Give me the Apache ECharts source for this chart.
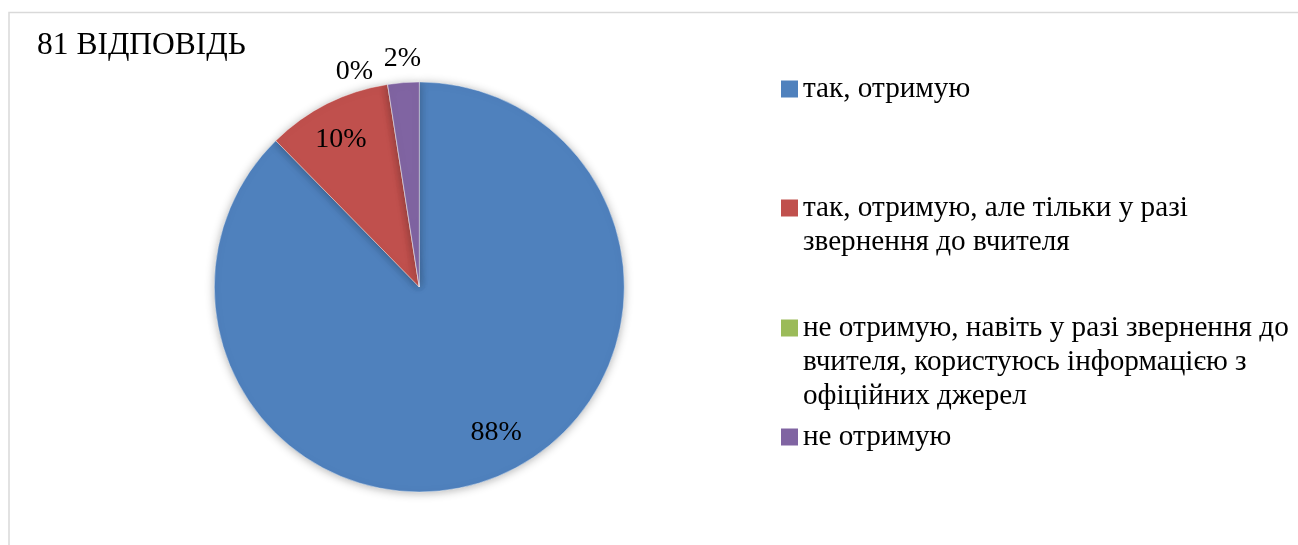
<!DOCTYPE html>
<html>
<head>
<meta charset="utf-8">
<script src="https://cdn.jsdelivr.net/npm/echarts@6/dist/echarts.min.js"></script>
<style>
  html, body { margin: 0; padding: 0; background: #fff; }
  #chart { width: 1298px; height: 545px; }
</style>
</head>
<body>
<div id="chart"></div>
<script>
// answers (81 responses in total)
var categories = [
    'так, отримую',
    'так, отримую, але тільки у разі звернення до вчителя',
    'не отримую, навіть у разі звернення до вчителя, користуюсь інформацією з офіційних джерел',
    'не отримую'
];
var legendLines = [
    ['так, отримую'],
    ['так, отримую, але тільки у разі', 'звернення до вчителя'],
    ['не отримую, навіть у разі звернення до', 'вчителя, користуюсь інформацією з', 'офіційних джерел'],
    ['не отримую']
];
var counts = [71, 8, 0, 2];
var titleText = '81 ВІДПОВІДЬ';

var colors = ['#4F81BD', '#C0504D', '#9BBB59', '#8064A2'];
var serif = '"Liberation Serif", "Times New Roman", serif';
var LH = 34;
var legendIconY = [89, 208, 328, 437];

var mychart = echarts.init(document.getElementById('chart'));

// offsets to move labels where Excel put them
var labelTweak = [
    { position: 'inside', offset: [37, 48] },
    { position: 'inside', offset: [-31, -53] },
    { position: 'outside', offset: [-7, 3] },
    { position: 'outside', offset: [24, -8] }
];

var pieData = categories.map(function (name, i) {
    return {
        name: name,
        value: counts[i],
        itemStyle: { color: colors[i] },
        label: labelTweak[i]
    };
});

function legendText(name) {
    var lines = legendLines[categories.indexOf(name)];
    var pad = [];
    for (var k = 1; k < lines.length; k++) pad.push('');
    return pad.concat(lines).join('\n');
}

var option = {
    animation: false,
    graphic: [{
        type: 'rect',
        shape: { x: 9, y: 12.5, width: 1400, height: 700 },
        style: { fill: 'none', stroke: '#d9d9d9', lineWidth: 1.5 },
        silent: true
    }],
    title: {
        text: titleText,
        left: 37,
        top: 30,
        padding: 0,
        textStyle: { fontFamily: serif, fontSize: 31.5, fontWeight: 'normal', color: '#000' }
    },
    legend: categories.map(function (name, i) {
        var n = legendLines[i].length;
        return {
            data: [name],
            orient: 'vertical',
            left: 781,
            top: legendIconY[i] - (2 * n - 1) * LH / 2,
            padding: 0,
            icon: 'rect',
            itemWidth: 17,
            itemHeight: 17,
            selectedMode: false,
            formatter: legendText,
            itemStyle: { borderWidth: 0, shadowBlur: 0 },
            textStyle: { fontFamily: serif, fontSize: 29.2, lineHeight: LH, color: '#000' }
        };
    }),
    series: [{
        type: 'pie',
        center: [419.3, 287],
        radius: 205,
        startAngle: 90,
        clockwise: true,
        avoidLabelOverlap: false,
        data: pieData,
        itemStyle: {
            borderColor: 'rgba(255,255,255,0.5)',
            borderWidth: 0.8,
            shadowColor: 'rgba(0,0,0,0.3)',
            shadowBlur: 10,
            shadowOffsetY: 1
        },
        label: {
            show: true,
            formatter: function (p) { return Math.round(p.percent) + '%'; },
            fontFamily: serif,
            fontSize: 28,
            color: '#000'
        },
        labelLine: { show: false, length: 16, length2: 0 },
        emphasis: { disabled: true }
    }]
};

mychart.setOption(option);
window.addEventListener('resize', function () {
    mychart.resize();
});
</script>
</body>
</html>
